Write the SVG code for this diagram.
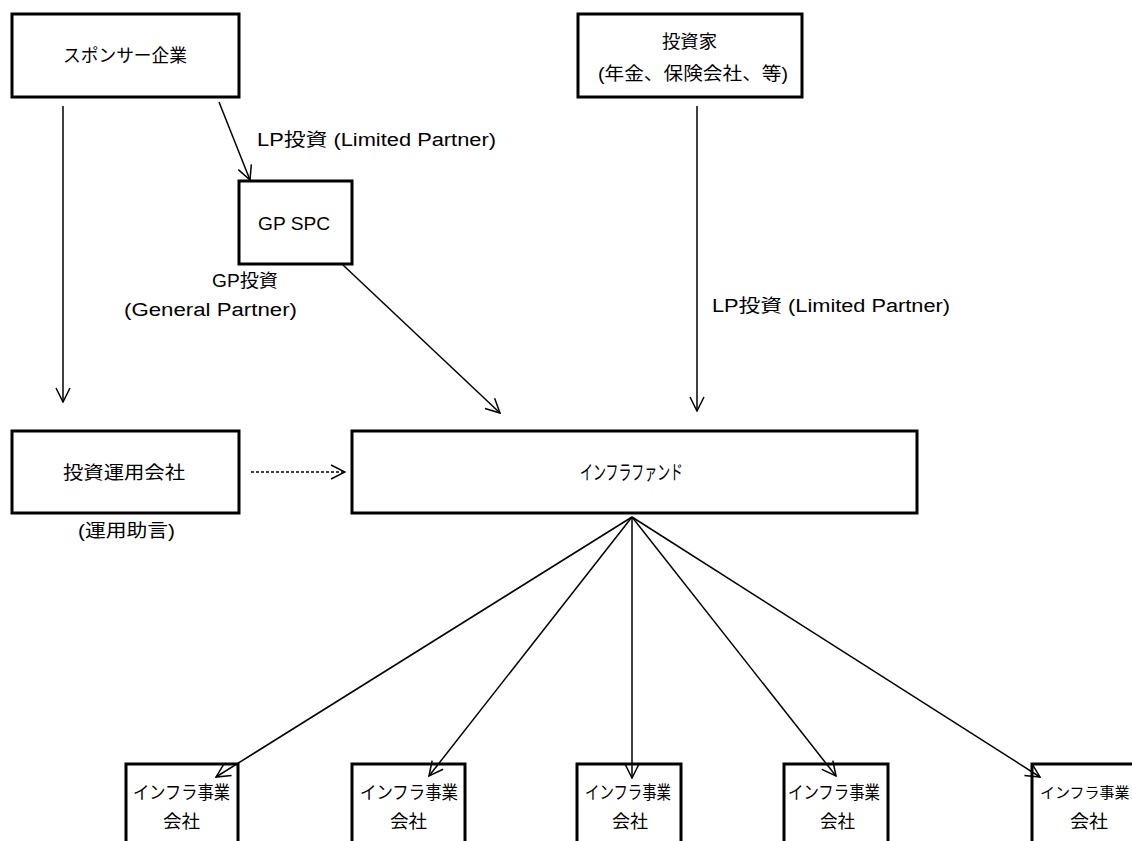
<svg xmlns="http://www.w3.org/2000/svg" width="1132" height="841" viewBox="0 0 1132 841">
<style>
.box{fill:#fff;stroke:#000;stroke-width:3}
.t{font-family:"Liberation Sans","Noto Sans CJK JP",sans-serif;font-size:18px;fill:#000}
.c{fill:none;stroke:#000;stroke-width:1.5}
</style>
<defs>
<marker id="a" viewBox="0 0 16 16" refX="15" refY="8" markerWidth="16" markerHeight="16" markerUnits="userSpaceOnUse" orient="auto">
<path d="M1,1 L15,8 L1,15" fill="none" stroke="#000" stroke-width="1.5"/>
</marker>
</defs>
<rect width="1132" height="841" fill="#fff"/>
<g id="sponsor"><rect class="box" x="12" y="14" width="227" height="83"/><text class="t" x="63" y="62" textLength="124" lengthAdjust="spacingAndGlyphs">スポンサー企業</text></g>
<g id="investor"><rect class="box" x="578" y="14" width="224" height="83"/><text class="t" x="662" y="48" textLength="55" lengthAdjust="spacingAndGlyphs">投資家</text><text class="t" x="598" y="80" textLength="190" lengthAdjust="spacingAndGlyphs">(年金、保険会社、等)</text></g>
<g id="gpspc"><rect class="box" x="239" y="181" width="113" height="83"/><text class="t" x="258" y="230" textLength="72" lengthAdjust="spacingAndGlyphs">GP SPC</text></g>
<g id="manager"><rect class="box" x="12" y="431" width="227" height="82"/><text class="t" x="63" y="479" textLength="122" lengthAdjust="spacingAndGlyphs">投資運用会社</text></g>
<g id="fund"><rect class="box" x="352" y="431" width="565" height="82"/><text class="t" x="580" y="480" style="font-size:20px" textLength="103" lengthAdjust="spacingAndGlyphs">インフラファンド</text></g>
<g id="op1"><rect class="box" x="126" y="764" width="112" height="90"/><text class="t" x="133" y="799" textLength="97" lengthAdjust="spacingAndGlyphs">インフラ事業</text><text class="t" x="163" y="828" textLength="37" lengthAdjust="spacingAndGlyphs">会社</text></g>
<g id="op2"><rect class="box" x="352" y="764" width="113" height="90"/><text class="t" x="360" y="799" textLength="98" lengthAdjust="spacingAndGlyphs">インフラ事業</text><text class="t" x="390" y="828" textLength="37" lengthAdjust="spacingAndGlyphs">会社</text></g>
<g id="op3"><rect class="box" x="577" y="764" width="104" height="90"/><text class="t" x="585" y="799" textLength="86" lengthAdjust="spacingAndGlyphs">インフラ事業</text><text class="t" x="612" y="828" textLength="36" lengthAdjust="spacingAndGlyphs">会社</text></g>
<g id="op4"><rect class="box" x="784" y="764" width="104" height="90"/><text class="t" x="788" y="799" textLength="92" lengthAdjust="spacingAndGlyphs">インフラ事業</text><text class="t" x="820" y="828" textLength="35" lengthAdjust="spacingAndGlyphs">会社</text></g>
<g id="op5"><rect class="box" x="1032" y="764" width="112" height="90"/><text class="t" x="1040" y="798" style="font-size:15px">インフラ事業</text><text class="t" x="1070" y="828" textLength="38" lengthAdjust="spacingAndGlyphs">会社</text></g>
<g id="connectors">
<line class="c" x1="63" y1="106" x2="63" y2="402" marker-end="url(#a)"/>
<line class="c" x1="219" y1="102" x2="250" y2="180" marker-end="url(#a)"/>
<line class="c" x1="343" y1="265" x2="500" y2="413" marker-end="url(#a)"/>
<line class="c" x1="697" y1="106" x2="697" y2="411" marker-end="url(#a)"/>
<line class="c" x1="251" y1="472" x2="345" y2="472" stroke-dasharray="3,2" marker-end="url(#a)"/>
<line class="c" x1="632" y1="517" x2="216" y2="777" marker-end="url(#a)"/>
<line class="c" x1="632" y1="517" x2="429" y2="776" marker-end="url(#a)"/>
<line class="c" x1="632" y1="517" x2="632" y2="778" marker-end="url(#a)"/>
<line class="c" x1="632" y1="517" x2="836" y2="776" marker-end="url(#a)"/>
<line class="c" x1="632" y1="517" x2="1040" y2="777" marker-end="url(#a)"/>
</g>
<g id="labels">
<text class="t" x="257" y="146" textLength="239" lengthAdjust="spacingAndGlyphs">LP投資 (Limited Partner)</text>
<text class="t" x="212" y="287" textLength="66" lengthAdjust="spacingAndGlyphs">GP投資</text>
<text class="t" x="124" y="316" textLength="173" lengthAdjust="spacingAndGlyphs">(General Partner)</text>
<text class="t" x="712" y="312" textLength="238" lengthAdjust="spacingAndGlyphs">LP投資 (Limited Partner)</text>
<text class="t" x="78" y="537" textLength="97" lengthAdjust="spacingAndGlyphs">(運用助言)</text>
</g>
</svg>
